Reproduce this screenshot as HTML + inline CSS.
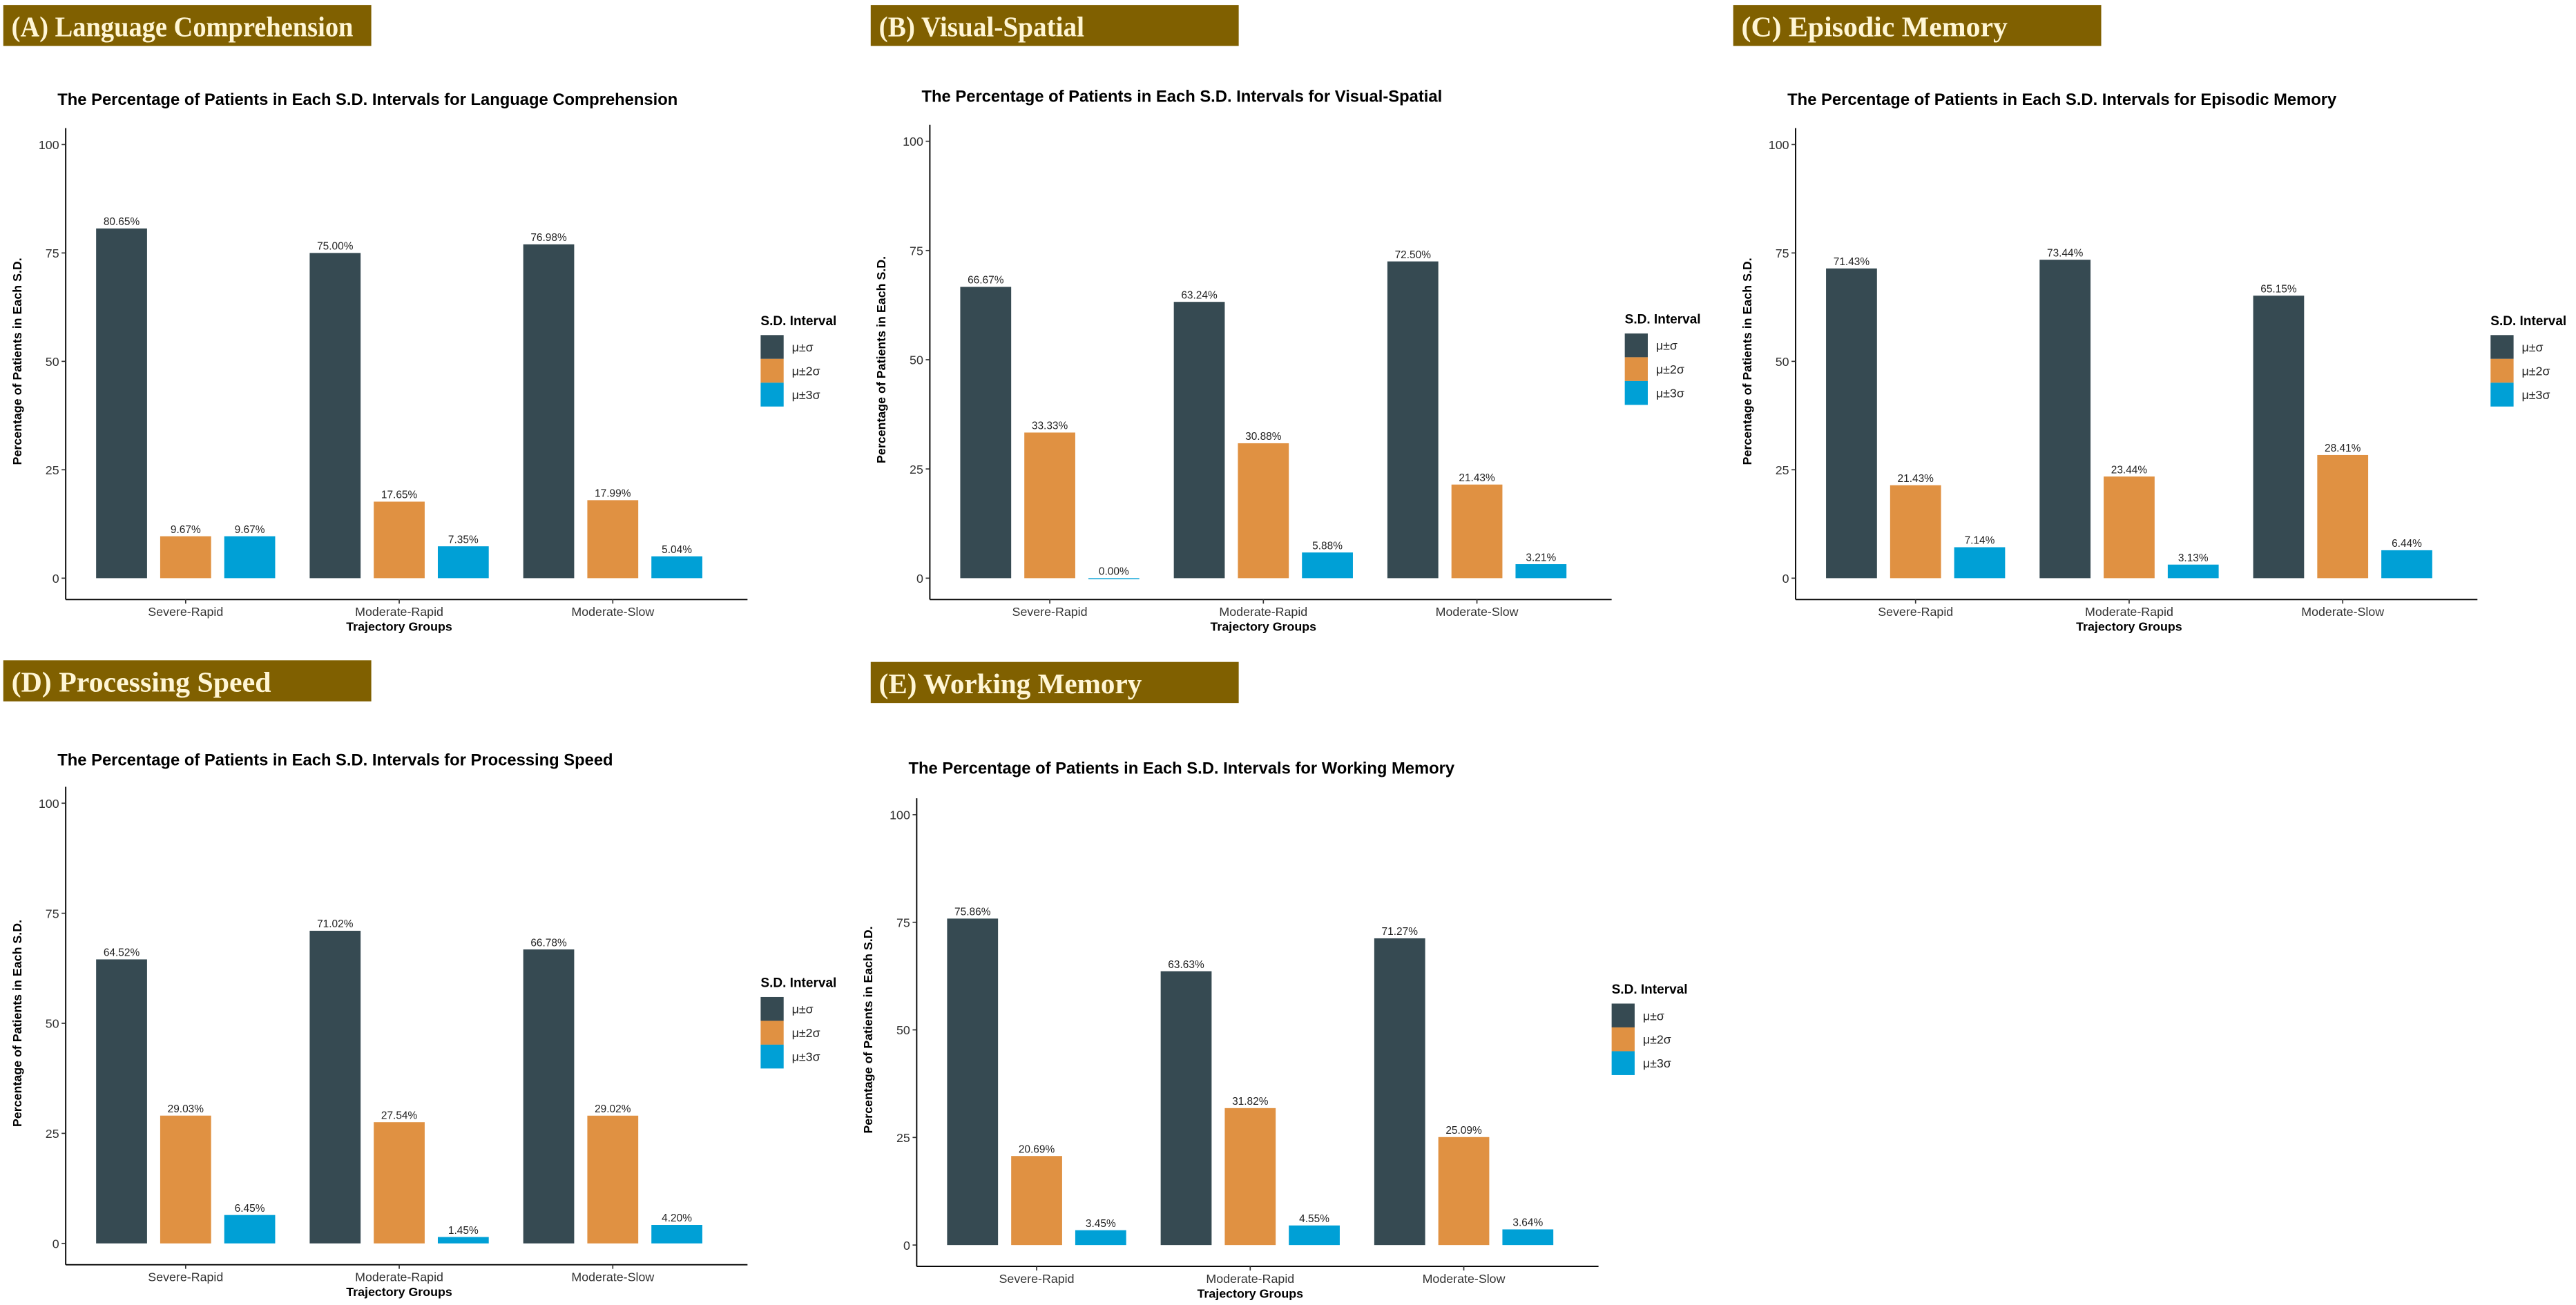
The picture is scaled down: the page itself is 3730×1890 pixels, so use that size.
<!DOCTYPE html>
<html><head><meta charset="utf-8"><style>
html,body{margin:0;padding:0;background:#fff;}
svg{display:block;}
text{font-family:"Liberation Sans",sans-serif;}
</style></head><body>
<svg id="fig" width="3730" height="1890" viewBox="0 0 1568 794.5" xmlns="http://www.w3.org/2000/svg"></svg>
<script>
const categories = ["Severe-Rapid","Moderate-Rapid","Moderate-Slow"];
const seriesNames = ["μ±σ","μ±2σ","μ±3σ"];
const langS1 = [80.65,75.00,76.98];
const langS2 = [9.67,17.65,17.99];
const langS3 = [9.67,7.35,5.04];
const visS1 = [66.67,63.24,72.50];
const visS2 = [33.33,30.88,21.43];
const visS3 = [0.00,5.88,3.21];
const epiS1 = [71.43,73.44,65.15];
const epiS2 = [21.43,23.44,28.41];
const epiS3 = [7.14,3.13,6.44];
const procS1 = [64.52,71.02,66.78];
const procS2 = [29.03,27.54,29.02];
const procS3 = [6.45,1.45,4.20];
const workS1 = [75.86,63.63,71.27];
const workS2 = [20.69,31.82,25.09];
const workS3 = [3.45,4.55,3.64];
const yTicks = [0,25,50,75,100];

const colors = ["#364a52","#e09142","#00a0d6"];
const NS = "http://www.w3.org/2000/svg";
const svg = document.getElementById('fig');
function mk(tag, attrs, parent, txt){
  const e = document.createElementNS(NS, tag);
  for (const k in attrs) e.setAttribute(k, attrs[k]);
  if (txt !== undefined) e.textContent = txt;
  (parent||svg).appendChild(e);
  return e;
}
const panels = [
  {key:"language-comprehension", label:"(A) Language Comprehension", tl:208, name:"Language Comprehension", data:[langS1,langS2,langS3], bx:2, by:3, ox:40, y0:352, y100:88, ty:64},
  {key:"visual-spatial", label:"(B) Visual-Spatial", tl:125, name:"Visual-Spatial", data:[visS1,visS2,visS3], bx:530, by:3, ox:566, y0:352, y100:86, ty:62},
  {key:"episodic-memory", label:"(C) Episodic Memory", tl:162, name:"Episodic Memory", data:[epiS1,epiS2,epiS3], bx:1055, by:3, ox:1093, y0:352, y100:88, ty:64},
  {key:"processing-speed", label:"(D) Processing Speed", tl:158, name:"Processing Speed", data:[procS1,procS2,procS3], bx:2, by:402, ox:40, y0:757, y100:489, ty:466},
  {key:"working-memory", label:"(E) Working Memory", tl:160, name:"Working Memory", data:[workS1,workS2,workS3], bx:530, by:403, ox:558, y0:758, y100:496, ty:471}
];
panels.forEach(p=>{
  const g = mk('g', {});
  
  
  const b = mk('rect', {x:p.bx, y:p.by, width:224, height:25, fill:"#806000"}, g);
  
  
  const bt = mk('text', {x:p.bx+5, y:p.by+19, fill:"#fff6d5", 'font-size':17.5, 'font-weight':'bold', textLength:p.tl, lengthAdjust:'spacingAndGlyphs', style:'font-family:"Liberation Serif",serif'}, g, p.label);
  
  
  const t = mk('text', {x:p.ox-5, y:p.ty, 'font-size':10, 'font-weight':'bold', fill:'#000'}, g, "The Percentage of Patients in Each S.D. Intervals for " + p.name);
  
  
  const ys = v => p.y0 - (p.y0 - p.y100) * v / 100;
  const xAxisY = p.y0 + 13;
  const step = 130;
  const xc = i => p.ox + 73 + i * step;
  const ya = mk('line', {x1:p.ox, x2:p.ox, y1:p.y100-10, y2:xAxisY, stroke:'#000', 'stroke-width':0.8}, g);
  
  
  const xa = mk('line', {x1:p.ox, x2:p.ox+415, y1:xAxisY, y2:xAxisY, stroke:'#000', 'stroke-width':0.8}, g);
  
  
  yTicks.forEach(v=>{
    const tk = mk('line', {x1:p.ox-2.5, x2:p.ox, y1:ys(v), y2:ys(v), stroke:'#333', 'stroke-width':0.7}, g);
    
    
    const tl = mk('text', {x:p.ox-4, y:ys(v)+2.8, 'text-anchor':'end', 'font-size':7.5, fill:'#333'}, g, String(v));
    
    
  });
  const yt = mk('text', {x:0, y:0, 'font-size':7.5, 'font-weight':'bold', 'text-anchor':'middle', transform:`translate(${p.ox-27},${(p.y0+p.y100)/2}) rotate(-90)`}, g, "Percentage of Patients in Each S.D.");
  
  
  categories.forEach((c,i)=>{
    const tk = mk('line', {x1:xc(i), x2:xc(i), y1:xAxisY, y2:xAxisY+2.5, stroke:'#333', 'stroke-width':0.7}, g);
    
    
    const cl = mk('text', {x:xc(i), y:xAxisY+10, 'text-anchor':'middle', 'font-size':7.5, fill:'#333'}, g, c);
    
    
    p.data.forEach((s,j)=>{
      const cx = xc(i) + (j-1)*39;
      const top = ys(s[i]);
      const r = mk('rect', {x:cx-15.5, y:top, width:31, height:Math.max(p.y0-top,0.6), fill:colors[j]}, g);
      
      
      const vl = mk('text', {x:cx, y:top-2, 'text-anchor':'middle', 'font-size':6.5, fill:'#222'}, g, s[i].toFixed(2) + '%');
      
      
    });
  });
  const xt = mk('text', {x:xc(1), y:xAxisY+19, 'text-anchor':'middle', 'font-size':7.5, 'font-weight':'bold'}, g, "Trajectory Groups");
  
  
  const lx = p.ox + 423, ly = (p.y0 + p.y100)/2 - 22;
  const lt = mk('text', {x:lx, y:ly, 'font-size':8, 'font-weight':'bold'}, g, "S.D. Interval");
  
  
  seriesNames.forEach((n,j)=>{
    const k = mk('rect', {x:lx, y:ly+6+j*14.5, width:14, height:14.5, fill:colors[j]}, g);
    
    
    const kt = mk('text', {x:lx+19, y:ly+16+j*14.5, 'font-size':7.5, fill:'#222'}, g, n);
    
    
  });
});
</script>
</body></html>
